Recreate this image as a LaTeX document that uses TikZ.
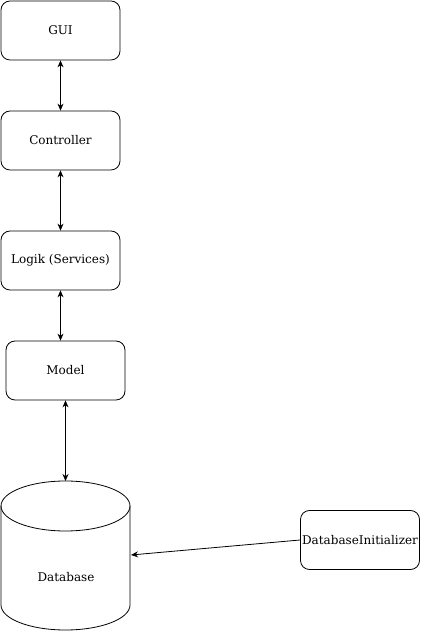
\documentclass[tikz,border=0pt]{standalone}
\usepackage{fontspec}
\setmainfont{DejaVu Serif}
\usetikzlibrary{arrows.meta}
\begin{document}
\begin{tikzpicture}[x=1pt,y=1pt,
  box/.style={draw, line width=0.8pt, rounded corners=9pt, minimum width=119pt, minimum height=59pt, inner sep=0pt, font=\fontsize{12}{14}\selectfont},
  conn/.style={line width=0.8pt, -{Stealth[length=7pt,width=6pt]}},
  biconn/.style={line width=0.8pt, {Stealth[length=7pt,width=6pt]}-{Stealth[length=7pt,width=6pt]}}]
\useasboundingbox (0,0) rectangle (421,631);
\node[box] (gui) at (60.5,600.5) {GUI};
\node[box] (ctrl) at (60.5,490.5) {Controller};
\node[box] (logik) at (60.5,370.5) {Logik (Services)};
\node[box] (model) at (65.5,260.5) {Model};
\node[box] (init) at (360,91) {DatabaseInitializer};
% cylinder
\draw[line width=0.8pt] (65.5,125) ellipse [x radius=64.5, y radius=25];
\draw[line width=0.8pt] (1,125) -- (1,26) arc[start angle=180, end angle=360, x radius=64.5, y radius=25] -- (130,125);
\node[font=\fontsize{12}{14}\selectfont] (db) at (66,54) {Database};
\coordinate (dbtop) at (65.5,150);
\coordinate (dbside) at (131,76);
\draw[biconn] (gui) -- (ctrl);
\draw[biconn] (ctrl) -- (logik);
\draw[biconn] (logik.south) -- (logik.south |- model.north);
\draw[biconn] (model) -- (dbtop);
\draw[conn] (init.west) -- (dbside);
\end{tikzpicture}
\end{document}
